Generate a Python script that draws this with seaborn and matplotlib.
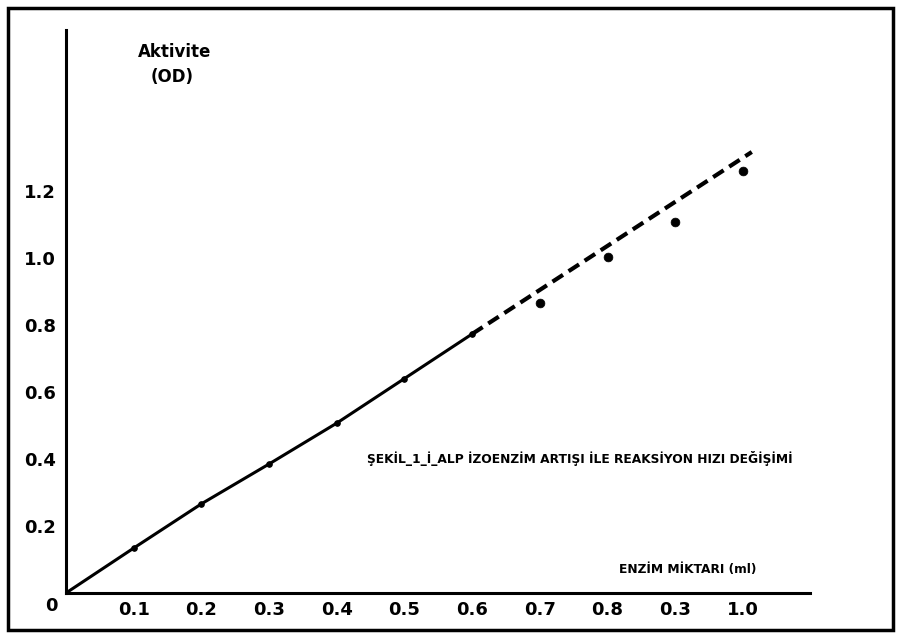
import matplotlib
matplotlib.use("Agg")
import matplotlib.pyplot as plt
import seaborn as sns
import pandas as pd
from matplotlib.patches import Rectangle

# Enzyme amount (ml) vs activity (OD)
line_x = [0.0, 0.1, 0.2, 0.3, 0.4, 0.5, 0.6]
line_y = [0.0, 0.134, 0.266, 0.385, 0.507, 0.64, 0.773]
trend_x = [0.6, 1.013]
trend_y = [0.773, 1.316]
obs_x = [0.7, 0.8, 0.9, 1.0]
obs_y = [0.866, 1.003, 1.107, 1.26]

x_ticks = [0.1, 0.2, 0.3, 0.4, 0.5, 0.6, 0.7, 0.8, 0.9, 1.0]
x_labels = ["0.1", "0.2", "0.3", "0.4", "0.5", "0.6", "0.7", "0.8", "0.3", "1.0"]
y_ticks = [0.2, 0.4, 0.6, 0.8, 1.0, 1.2]
y_labels = ["0.2", "0.4", "0.6", "0.8", "1.0", "1.2"]

sns.set_style("white")
plt.rcParams['font.family'] = ['DejaVu Sans']
plt.rcParams['text.color'] = 'black'
plt.rcParams['xtick.color'] = 'black'
plt.rcParams['ytick.color'] = 'black'

fig = plt.figure(figsize=(8.97, 6.34), dpi=100)
ax = fig.add_axes([66 / 897, 41 / 634, 744 / 897, 563 / 634])

line_df = pd.DataFrame({"x": line_x, "y": line_y})
trend_df = pd.DataFrame({"x": trend_x, "y": trend_y})
obs_df = pd.DataFrame({"x": obs_x, "y": obs_y})

# solid part and extrapolated dashed part
sns.lineplot(data=line_df, x="x", y="y", ax=ax, color="black", lw=2.2,
             marker="o", markersize=4, markeredgecolor="black", sort=False)
sns.lineplot(data=trend_df, x="x", y="y", ax=ax, color="black", lw=3,
             dashes=False, sort=False)
ax.lines[-1].set_linestyle((0, (3, 1.6)))
sns.scatterplot(data=obs_df, x="x", y="y", ax=ax, color="black", s=40,
                edgecolor="black", zorder=5)

ax.set_xlim(0, 1.099)
ax.set_ylim(0, 1.68)
ax.set_xticks(x_ticks)
ax.set_xticklabels(x_labels)
ax.set_yticks(y_ticks)
ax.set_yticklabels(y_labels)
ax.set_xlabel("")
ax.set_ylabel("")

for lab in ax.get_xticklabels() + ax.get_yticklabels():
    lab.set_fontweight("bold")
    lab.set_fontsize(13)
    lab.set_color("black")

ax.tick_params(axis="x", direction="in", length=5, width=1.5, pad=6)
ax.tick_params(axis="y", direction="out", length=5, width=1.5, pad=2)
sns.despine(ax=ax)
for side in ["left", "bottom"]:
    ax.spines[side].set_linewidth(2.2)
    ax.spines[side].set_color("black")

ax.text(-0.012, -0.012, "0", transform=ax.transData, ha="right", va="top",
        fontsize=13, fontweight="bold", color="black")

# axis titles and caption
fig.text(175 / 897, 1 - 52 / 634, "Aktivite", ha="center", va="center",
         fontsize=12, fontweight="bold", color="black")
fig.text(172 / 897, 1 - 77 / 634, "(OD)", ha="center", va="center",
         fontsize=12, fontweight="bold", color="black")
fig.text(580 / 897, 1 - 458 / 634,
         "ŞEKİL_1_İ_ALP İZOENZİM ARTIŞI İLE REAKSİYON HIZI DEĞİŞİMİ",
         ha="center", va="center", fontsize=8.8, fontweight="bold",
         color="black")
fig.text(688 / 897, 1 - 570 / 634, "ENZİM MİKTARI (ml)", ha="center",
         va="center", fontsize=8.8, fontweight="bold", color="black")

# scanned page frame
fig.patches.append(Rectangle((8 / 897, 4 / 634), 885 / 897, 622 / 634,
                             transform=fig.transFigure, fill=False,
                             edgecolor="black", lw=2.5))

fig.savefig("out.png", dpi=100)
